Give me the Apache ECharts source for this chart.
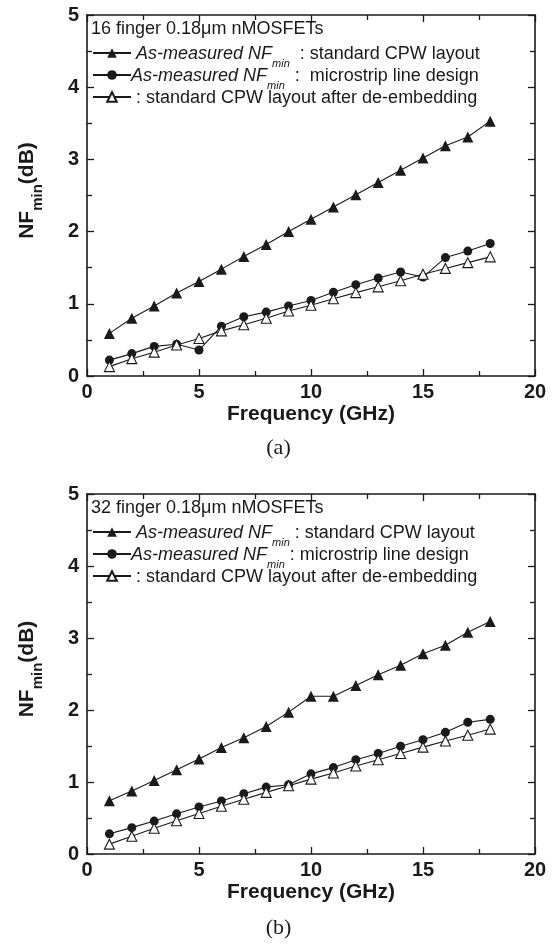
<!DOCTYPE html>
<html><head><meta charset="utf-8">
<script src="https://cdn.jsdelivr.net/npm/echarts@6/dist/echarts.min.js"></script>
<style>html,body{margin:0;padding:0;background:#fff}#c{width:557px;height:947px}</style>
</head><body><div id="c"></div>
<script>
const freq = [1,2,3,4,5,6,7,8,9,10,11,12,13,14,15,16,17,18];
const xTicks = [0,5,10,15,20];
const yTicks = [0,1,2,3,4,5];
// (a) 16 finger
const a_cpw = [0.59,0.80,0.97,1.15,1.31,1.48,1.655,1.82,2.0,2.17,2.34,2.51,2.68,2.85,3.02,3.19,3.31,3.53];
const a_ms  = [0.22,0.31,0.41,0.44,0.36,0.69,0.82,0.885,0.97,1.045,1.16,1.265,1.357,1.44,1.37,1.64,1.73,1.835];
const a_de  = [0.13,0.24,0.33,0.43,0.52,0.625,0.71,0.80,0.90,0.98,1.07,1.155,1.235,1.32,1.41,1.49,1.57,1.65];
// (b) 32 finger
const b_cpw = [0.74,0.875,1.02,1.17,1.32,1.48,1.615,1.77,1.97,2.19,2.19,2.34,2.49,2.62,2.78,2.90,3.08,3.23];
const b_ms  = [0.28,0.366,0.457,0.558,0.654,0.737,0.838,0.929,0.962,1.113,1.20,1.31,1.396,1.497,1.588,1.69,1.83,1.87];
const b_de  = [0.137,0.247,0.357,0.462,0.563,0.663,0.76,0.856,0.948,1.04,1.126,1.222,1.31,1.396,1.484,1.57,1.65,1.735];

const titles = ['16 finger 0.18\u03bcm nMOSFETs','32 finger 0.18\u03bcm nMOSFETs'];
const captions = ['(a)','(b)'];
const xName = 'Frequency (GHz)';

const FONT = 'Liberation Sans, Arial, sans-serif';
const INK = '#1a1a1a';
const grids = [{left:87, top:15, width:448, height:361},{left:87, top:494, width:448, height:360}];

function pairs(v){ return freq.map((f,i)=>[f,v[i]]); }

const xAxis = [], yAxis = [];
grids.forEach((g,gi)=>{
  const common = {
    gridIndex: gi, type:'value', min:0, splitLine:{show:false},
    axisLine:{show:true, onZero:false, lineStyle:{color:INK, width:1.6}},
    axisTick:{show:true, inside:true, length:7, lineStyle:{color:INK, width:1.3}},
    minorTick:{show:true, splitNumber:2, length:5, lineStyle:{color:INK, width:1.3}},
  };
  xAxis.push(Object.assign({}, common, {position:'bottom', max:20, interval:5,
    axisLabel:{show:true, color:INK, fontFamily:FONT, fontWeight:'bold', fontSize:20, margin:6,
      formatter: v => xTicks.includes(v) ? String(v) : ''},
    name:xName, nameLocation:'middle', nameGap:28,
    nameTextStyle:{color:INK, fontFamily:FONT, fontWeight:'bold', fontSize:21, verticalAlign:'top'}}));
  xAxis.push(Object.assign({}, common, {position:'top', max:20, interval:5, axisLabel:{show:false}}));
  yAxis.push(Object.assign({}, common, {position:'left', max:5, interval:1,
    axisLabel:{show:true, color:INK, fontFamily:FONT, fontWeight:'bold', fontSize:20, margin:8,
      formatter: v => yTicks.includes(v) ? String(v) : ''},
    name:'{b|NF}{s|min}{b|(dB)}', nameLocation:'middle', nameGap:49, nameRotate:90,
    nameTextStyle:{color:INK, fontFamily:FONT, fontWeight:'bold', fontSize:21, padding:[0,0,0,10],
      rich:{
        b:{fontFamily:FONT, fontWeight:'bold', fontSize:21, color:INK, verticalAlign:'bottom', lineHeight:24},
        s:{fontFamily:FONT, fontWeight:'bold', fontSize:15, color:INK, verticalAlign:'bottom', lineHeight:24, padding:[0,0,-7,0]}}}}));
  yAxis.push(Object.assign({}, common, {position:'right', max:5, interval:1, axisLabel:{show:false}}));
});

function mk(name, data, gi, sym, filled, size){
  return {name, type:'line', xAxisIndex:gi*2, yAxisIndex:gi*2, data:pairs(data),
    symbol:sym, symbolSize:size, showSymbol:true,
    lineStyle:{color:INK, width:1.1},
    itemStyle:{color: filled ? INK : '#fff', borderColor:INK, borderWidth: filled?0:1.1},
    z: filled ? 3 : 4, animation:false};
}
const series = [
  mk('a_cpw', a_cpw, 0, 'triangle', true, 11),
  mk('a_ms', a_ms, 0, 'circle', true, 9),
  mk('a_de', a_de, 0, 'triangle', false, 10),
  mk('b_cpw', b_cpw, 1, 'triangle', true, 11),
  mk('b_ms', b_ms, 1, 'circle', true, 9),
  mk('b_de', b_de, 1, 'triangle', false, 10),
];

const legendText = {
  a_cpw:'{i| As-measured NF}{s|min}{n|  : standard CPW layout}',
  a_ms:'{i|As-measured NF}{s|min}{n|  :  microstrip line design}',
  a_de:'{n| : standard CPW layout after de-embedding}',
  b_cpw:'{i| As-measured NF}{s|min}{n| : standard CPW layout}',
  b_ms:'{i|As-measured NF}{s|min}{n| : microstrip line design}',
  b_de:'{n| : standard CPW layout after de-embedding}',
};
const rich = {
  i:{fontFamily:FONT, fontStyle:'italic', fontSize:18, color:INK, verticalAlign:'bottom', lineHeight:20},
  s:{fontFamily:FONT, fontStyle:'italic', fontSize:11, color:INK, verticalAlign:'bottom', lineHeight:20, padding:[0,0,-6,0]},
  n:{fontFamily:FONT, fontSize:18, color:INK, verticalAlign:'bottom', lineHeight:20}
};
const legend = grids.map((g,gi)=>({
  data: gi===0 ? ['a_cpw','a_ms','a_de'] : ['b_cpw','b_ms','b_de'],
  orient:'vertical', left:g.left+5, top:g.top+30, itemGap:-2, itemWidth:38, itemHeight:12,
  selectedMode:false, padding:0,
  formatter: n => legendText[n],
  textStyle:{rich, fontFamily:FONT, fontSize:18, color:INK, padding:[0,0,0,-5]}
}));

const title = [
  {text:titles[0], left:grids[0].left+4, top:grids[0].top+5, textStyle:{fontFamily:FONT, fontWeight:'normal', fontSize:18, color:INK}, padding:0},
  {text:titles[1], left:grids[1].left+4, top:grids[1].top+5, textStyle:{fontFamily:FONT, fontWeight:'normal', fontSize:18, color:INK}, padding:0},
  {text:captions[0], left:'center', top:437, textStyle:{fontFamily:'Liberation Serif, serif', fontWeight:'normal', fontSize:22, color:INK}, padding:0},
  {text:captions[1], left:'center', top:917, textStyle:{fontFamily:'Liberation Serif, serif', fontWeight:'normal', fontSize:22, color:INK}, padding:0},
];

const chart = echarts.init(document.getElementById('c'), null, {renderer:'canvas'});
chart.setOption({backgroundColor:'#fff', animation:false, grid:grids, xAxis, yAxis, series, legend, title});
</script></body></html>
